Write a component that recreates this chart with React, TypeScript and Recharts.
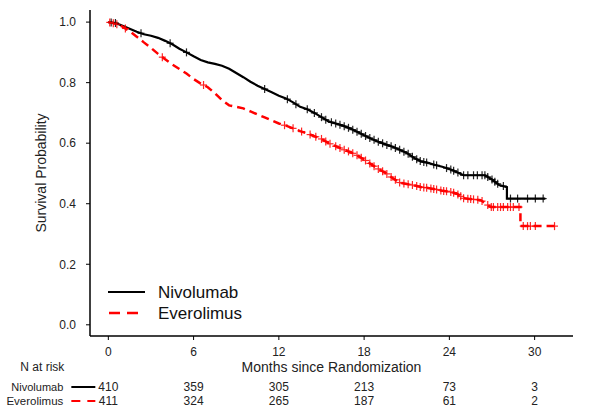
import React from 'react';
import { ComposedChart, Line, Scatter, XAxis, YAxis } from 'recharts';

const monthTicks = [0, 6, 12, 18, 24, 30];
const probTicks = [0, 0.2, 0.4, 0.6, 0.8, 1.0];
const nivoAtRisk = [410, 359, 305, 213, 73, 3];
const everoAtRisk = [411, 324, 265, 187, 61, 2];

// Kaplan-Meier curves (months, survival probability)
const nivoTimes = [
  0, 0.5, 1, 1.5, 2, 2.5, 3, 3.5, 4, 4.5, 5, 5.5, 6, 6.5, 7, 7.5, 8, 8.5, 9, 9.5,
  10, 10.5, 11, 11.5, 12, 12.5, 13, 13.5, 14, 14.5, 15, 15.5, 16, 16.5, 17, 17.5,
  18, 18.5, 19, 19.5, 20, 20.5, 21, 21.5, 22, 22.5, 23, 23.5, 24, 24.5, 25, 26.5,
  27, 27.5, 28.05, 28.05, 30.75,
];
const nivoSurv = [
  1.0, 0.997, 0.988, 0.978, 0.968, 0.96, 0.955, 0.948, 0.938, 0.927, 0.912, 0.9, 0.887, 0.875, 0.867, 0.862, 0.856, 0.846, 0.832, 0.818,
  0.803, 0.79, 0.779, 0.768, 0.757, 0.748, 0.735, 0.72, 0.712, 0.7, 0.686, 0.672, 0.665, 0.658, 0.649, 0.638,
  0.626, 0.615, 0.605, 0.596, 0.588, 0.578, 0.568, 0.552, 0.54, 0.535, 0.528, 0.522, 0.515, 0.505, 0.494, 0.494,
  0.48, 0.462, 0.455, 0.417, 0.417,
];
const everoTimes = [
  0, 0.5, 1, 1.5, 2, 2.5, 3, 3.5, 4, 4.5, 5, 5.5, 6, 6.5, 7, 7.5, 8, 8.5, 9, 9.5,
  10, 10.5, 11, 11.5, 12, 12.5, 13, 13.5, 14, 14.5, 15, 15.5, 16, 16.5, 17, 17.5,
  18, 18.5, 19, 19.5, 20, 20.5, 21, 21.5, 22, 22.5, 23, 23.5, 24, 24.5, 25, 26.2,
  26.9, 29.0, 29.0, 31.6,
];
const everoSurv = [
  1.0, 0.995, 0.985, 0.97, 0.952, 0.933, 0.915, 0.895, 0.877, 0.86, 0.845, 0.83, 0.812, 0.797, 0.785, 0.765, 0.742, 0.725, 0.72, 0.715,
  0.705, 0.695, 0.685, 0.675, 0.665, 0.658, 0.649, 0.64, 0.632, 0.623, 0.614, 0.6, 0.59, 0.58, 0.571, 0.56,
  0.546, 0.53, 0.515, 0.502, 0.485, 0.47, 0.465, 0.461, 0.455, 0.452, 0.448, 0.443, 0.44, 0.434, 0.418, 0.412,
  0.389, 0.389, 0.326, 0.326,
];

// censoring times (months)
const nivoCensor = [
  0.2, 0.5, 2.3, 4.35, 5.5, 11.0, 12.6, 13.2, 14.0, 14.5, 15.0, 15.3, 15.7, 16.0, 16.3, 16.6, 16.9,
  17.2, 17.5, 17.8, 18.1, 18.4, 18.7, 19.0, 19.3, 19.6, 19.9, 20.2, 20.5, 20.8, 21.1, 21.4, 21.7,
  21.95, 22.2, 22.4, 22.9, 23.1, 23.8, 24.1, 24.3, 24.6, 25.0, 25.3, 25.7, 25.97, 26.3, 26.5, 26.7,
  27.0, 27.2, 27.4, 27.8, 28.3, 28.8, 29.5, 30.05, 30.6,
];
const everoCensor = [
  0.1, 0.35, 0.6, 1.2, 3.8, 6.7, 12.4, 13.0, 13.6, 14.2, 14.6, 15.0, 15.3, 15.6, 16.0, 16.3, 16.6,
  16.9, 17.2, 17.5, 17.8, 18.1, 18.4, 18.7, 19.0, 19.3, 19.6, 19.9, 20.2, 20.5, 20.8, 21.1, 21.4,
  21.7, 21.95, 22.2, 22.4, 22.7, 22.9, 23.1, 23.4, 23.6, 23.8, 24.1, 24.3, 24.6, 24.8, 25.0, 25.3,
  25.5, 25.7, 26.0, 26.3, 26.7, 26.95, 27.1, 27.4, 27.6, 27.8, 28.1, 28.3, 28.5, 28.9, 29.2, 29.5,
  29.7, 30.05, 31.4,
];

const FONT = '"Liberation Sans", Arial, sans-serif';

function toRows(times: number[], surv: number[]) {
  return times.map((t, i) => ({ t, s: surv[i] }));
}

// place a censor mark on the drawn curve
function survivalAt(times: number[], surv: number[], t: number) {
  for (let i = 0; i < times.length - 1; i++) {
    if (t >= times[i] && t <= times[i + 1]) {
      const span = times[i + 1] - times[i];
      if (span === 0) return surv[i + 1];
      return surv[i] + ((surv[i + 1] - surv[i]) * (t - times[i])) / span;
    }
  }
  return surv[surv.length - 1];
}

const nivoData = toRows(nivoTimes, nivoSurv);
const everoData = toRows(everoTimes, everoSurv);
const nivoMarks = nivoCensor.map((t) => ({ t, s: survivalAt(nivoTimes, nivoSurv, t) }));
const everoMarks = everoCensor.map((t) => ({ t, s: survivalAt(everoTimes, everoSurv, t) }));

const plusShape = (color: string) => (props: any) => {
  const { cx, cy } = props;
  if (cx == null || cy == null) return <g />;
  return (
    <g stroke={color} strokeWidth={1.2} opacity={0.85}>
      <line x1={cx - 3.5} y1={cy} x2={cx + 3.5} y2={cy} />
      <line x1={cx} y1={cy - 4} x2={cx} y2={cy + 4} />
    </g>
  );
};

const MonthTick = (props: any) => {
  const { x, y, payload, index } = props;
  return (
    <g fontFamily={FONT} fontSize={12} fill="#222">
      <text x={x} y={y} dy={8} textAnchor="middle">{payload.value}</text>
      <text x={x} y={y} dy={43} textAnchor="middle">{nivoAtRisk[index]}</text>
      <text x={x} y={y} dy={57} textAnchor="middle">{everoAtRisk[index]}</text>
      {index === 0 && (
        <g>
          <text x={x - 88} y={y} dy={23}>N at risk</text>
          <text x={x - 45} y={y} dy={43} textAnchor="end" fontSize={11}>Nivolumab</text>
          <text x={x - 45} y={y} dy={57} textAnchor="end" fontSize={11.5}>Everolimus</text>
          <line x1={x - 37} y1={y + 39} x2={x - 13} y2={y + 39} stroke="#000" strokeWidth={2} />
          <line x1={x - 37} y1={y + 53} x2={x - 13} y2={y + 53} stroke="#f00" strokeWidth={2} strokeDasharray="9 7" />
        </g>
      )}
    </g>
  );
};

const YLabel = (props: any) => {
  const { viewBox } = props;
  const cx = 41;
  const cy = viewBox.y + viewBox.height / 2;
  return (
    <text x={cx} y={cy} transform={`rotate(-90 ${cx} ${cy})`} textAnchor="middle" dominantBaseline="central"
      fontFamily={FONT} fontSize={14} fill="#222">
      Survival Probability
    </text>
  );
};

function LegendBox() {
  return (
    <svg width={200} height={50} style={{ position: 'absolute', left: 100, top: 278 }}>
      <line x1={8} y1={14} x2={45} y2={14} stroke="#000" strokeWidth={2.2} />
      <text x={58} y={14} dominantBaseline="central" fontFamily={FONT} fontSize={17} fill="#111">Nivolumab</text>
      <line x1={9} y1={35} x2={45} y2={35} stroke="#f00" strokeWidth={2.5} strokeDasharray="11 7" />
      <text x={58} y={35} dominantBaseline="central" fontFamily={FONT} fontSize={17} fill="#111">Everolimus</text>
    </svg>
  );
}

export default function App() {
  return (
    <div style={{ position: 'absolute', left: 0, top: 0, width: 599, height: 412, background: '#fff' }}>
      <ComposedChart width={599} height={412} margin={{ top: 10, right: 26, left: 0, bottom: 0 }}>
        <XAxis
          type="number"
          dataKey="t"
          domain={[-1.29, 32.7]}
          ticks={monthTicks}
          allowDataOverflow
          height={76}
          tickSize={4}
          tickMargin={8}
          tick={<MonthTick />}
          axisLine={{ stroke: '#000', strokeWidth: 1.5 }}
          tickLine={{ stroke: '#000' }}
          label={{ value: 'Months since Randomization', position: 'insideBottom', offset: 40, fontSize: 14, fill: '#222', fontFamily: FONT }}
        />
        <YAxis
          type="number"
          dataKey="s"
          domain={[-0.037, 1.04]}
          ticks={probTicks}
          allowDataOverflow
          width={90}
          tickSize={4}
          tickMargin={10}
          tickFormatter={(v: number) => v.toFixed(1)}
          tick={{ fontSize: 12, fill: '#222', fontFamily: FONT }}
          axisLine={{ stroke: '#000', strokeWidth: 1.5 }}
          tickLine={{ stroke: '#000' }}
          label={<YLabel />}
        />
        <Line data={nivoData} dataKey="s" type="linear" stroke="#000" strokeWidth={2.2} dot={false} isAnimationActive={false} />
        <Line data={everoData} dataKey="s" type="linear" stroke="#f00" strokeWidth={2.5} strokeDasharray="8 5" dot={false} isAnimationActive={false} />
        <Scatter data={nivoMarks} dataKey="s" shape={plusShape('#000')} isAnimationActive={false} />
        <Scatter data={everoMarks} dataKey="s" shape={plusShape('#f00')} isAnimationActive={false} />
      </ComposedChart>
      <LegendBox />
    </div>
  );
}
